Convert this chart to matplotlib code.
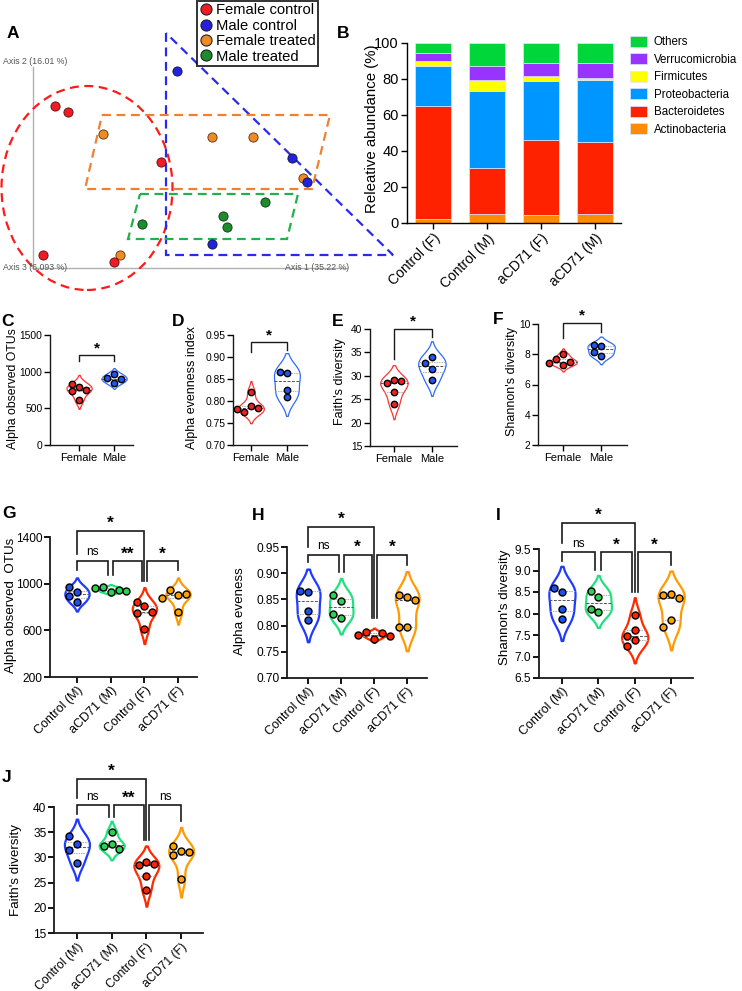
import numpy as np
import matplotlib
matplotlib.use('Agg')
import matplotlib.pyplot as plt
from matplotlib.patches import Ellipse, Polygon, Patch
from matplotlib.lines import Line2D

plt.rcParams['font.family'] = ['Liberation Sans', 'DejaVu Sans']

# ======================= DATA =======================
# Panel A: PCoA coordinates (Axis 1, Axis 2)
pcoa_labels = ['Female control', 'Male control', 'Female treated', 'Male treated']
fc_ax1 = [0.22, 0.35, 1.28, 0.10, 0.81]
fc_ax2 = [1.62, 1.56, 1.06, 0.13, 0.06]
mc_ax1 = [1.44, 2.59, 2.74, 1.79]
mc_ax2 = [1.97, 1.10, 0.86, 0.24]
ft_ax1 = [0.70, 1.79, 2.20, 2.70, 0.87]
ft_ax2 = [1.34, 1.31, 1.31, 0.90, 0.13]
mt_ax1 = [1.09, 1.90, 1.94, 2.32]
mt_ax2 = [0.44, 0.52, 0.41, 0.66]
axis_labels = ['Axis 1 (35.22 %)', 'Axis 2 (16.01 %)', 'Axis 3 (6.093 %)']

# Panel B: relative abundance (%)
b_groups = ['Control (F)', 'Control (M)', 'aCD71 (F)', 'aCD71 (M)']
phyla = ['Actinobacteria', 'Bacteroidetes', 'Proteobacteria', 'Firmicutes',
         'Verrucomicrobia', 'Others']
actinobacteria = [2.4, 4.8, 4.3, 5.0]
bacteroidetes = [62.8, 25.7, 42.0, 40.2]
proteobacteria = [22.2, 42.9, 32.7, 34.4]
firmicutes = [2.7, 5.8, 2.6, 0.7]
verrucomicrobia = [4.3, 8.3, 7.2, 8.7]
others = [5.6, 12.5, 11.2, 11.0]

# Panels C-F: Female vs Male (controls)
sex_groups = ['Female', 'Male']
otus_female = [790, 836, 736, 755, 614]
otus_male = [970, 918, 895, 845]
even_female = [0.789, 0.775, 0.820, 0.784, 0.781]
even_male = [0.864, 0.866, 0.826, 0.809]
faith_female = [29.1, 28.4, 28.9, 26.5, 23.9]
faith_male = [34.1, 32.7, 31.5, 29.0]
shannon_female = [7.99, 7.66, 7.26, 7.48, 7.45]
shannon_male = [8.54, 8.63, 7.88, 8.12]

# Panels G-J: four groups
tx_groups = ['Control (M)', 'aCD71 (M)', 'Control (F)', 'aCD71 (F)']
otus_ctrl_m = [925, 970, 845, 893]
otus_acd_m = [925, 968, 945, 962, 940]
otus_ctrl_f = [805, 840, 745, 760, 612]
otus_acd_f = [905, 945, 910, 880, 757]
even_ctrl_m = [0.865, 0.866, 0.827, 0.811]
even_acd_m = [0.847, 0.859, 0.815, 0.823]
even_ctrl_f = [0.775, 0.788, 0.785, 0.782, 0.780]
even_acd_f = [0.855, 0.858, 0.849, 0.797, 0.798]
shan_ctrl_m = [8.51, 8.59, 8.11, 7.88]
shan_acd_m = [8.39, 8.53, 8.03, 8.11]
shan_ctrl_f = [7.97, 7.62, 7.47, 7.39, 7.25]
shan_acd_f = [8.46, 8.44, 8.35, 7.85, 7.68]
faith_ctrl_m = [32.7, 34.2, 31.5, 28.9]
faith_acd_m = [35.0, 32.7, 32.3, 31.7]
faith_ctrl_f = [29.0, 28.4, 28.7, 26.4, 23.6]
faith_acd_f = [31.2, 32.3, 30.5, 31.0, 25.8]

# ======================= FIGURE =======================
W, H = 742, 991
fig = plt.figure(figsize=(W / 100, H / 100), dpi=100)


def add_ax(l, t, r, b):
    return fig.add_axes([l / W, 1 - b / H, (r - l) / W, (b - t) / H])


def ftext(x, y, s, **kw):
    fig.text(x / W, 1 - y / H, s, **kw)


def letter(x, y, s):
    ftext(x, y, s, fontsize=12.5, fontweight='bold', ha='center', va='center')


# ---------------- Panel A ----------------
axA = add_ax(0, 0, 400, 300)
axA.set_xlim(-0.33, 3.67)
axA.set_ylim(-0.32, 2.68)
axA.axis('off')
axA.plot([0, 0], [0, 2.01], color='#b0b0b0', lw=1.0, zorder=1)
axA.plot([0, 3.14], [0, 0], color='#b0b0b0', lw=1.0, zorder=1)
axA.text(-0.30, 2.06, axis_labels[1], fontsize=6.3, color='#555555', ha='left', va='center')
axA.text(-0.30, 0.0, axis_labels[2], fontsize=6.3, color='#555555', ha='left', va='center')
axA.text(2.52, 0.0, axis_labels[0], fontsize=6.3, color='#555555', ha='left', va='center')

dash = (0, (4, 2.5))
axA.add_patch(Ellipse((0.54, 0.80), 1.71, 2.04, fill=False, edgecolor='#FF1A1A', lw=1.6, linestyle=dash, zorder=2))
axA.add_patch(Polygon([(1.33, 2.35), (1.33, 0.13), (3.60, 0.13)], closed=True, fill=False,
                      edgecolor='#2A2AEE', lw=1.6, linestyle=dash, zorder=2))
axA.add_patch(Polygon([(0.69, 1.53), (2.97, 1.53), (2.79, 0.79), (0.52, 0.79)], closed=True, fill=False,
                      edgecolor='#F08030', lw=1.6, linestyle=dash, zorder=2))
axA.add_patch(Polygon([(1.07, 0.74), (2.65, 0.74), (2.54, 0.29), (0.95, 0.29)], closed=True, fill=False,
                      edgecolor='#22B04A', lw=1.6, linestyle=dash, zorder=2))

a_colors = ['#EE1C25', '#2222DD', '#F08A24', '#1C8C2C']
ms_A = 44
axA.scatter(ft_ax1, ft_ax2, s=ms_A, color=a_colors[2], edgecolor='#553311', lw=0.6, zorder=3)
axA.scatter(mt_ax1, mt_ax2, s=ms_A, color=a_colors[3], edgecolor='#113311', lw=0.6, zorder=3)
axA.scatter(fc_ax1, fc_ax2, s=ms_A, color=a_colors[0], edgecolor='#551111', lw=0.6, zorder=4)
axA.scatter(mc_ax1, mc_ax2, s=ms_A, color=a_colors[1], edgecolor='#111144', lw=0.6, zorder=4)

handlesA = [Line2D([], [], marker='o', ls='none', markersize=8, markerfacecolor=c,
                   markeredgecolor='#222222', markeredgewidth=0.8) for c in a_colors]
legA = fig.legend(handlesA, pcoa_labels, loc='upper left', bbox_to_anchor=(197 / W, 1 - 1 / H),
                  frameon=True, fancybox=False, edgecolor='black', fontsize=10.6,
                  borderpad=0.15, labelspacing=0.1, handletextpad=0.25, handlelength=0.9,
                  borderaxespad=0)
legA.get_frame().set_linewidth(1.4)
letter(13, 34, 'A')

# ---------------- Panel B ----------------
axB = add_ax(407, 43, 621, 223)
b_series = [actinobacteria, bacteroidetes, proteobacteria, firmicutes, verrucomicrobia, others]
b_colors = ['#FF8C00', '#FF2200', '#0096FF', '#FFFF00', '#9933FF', '#00D63A']
xB = np.arange(len(b_groups))
bottom = np.zeros(len(b_groups))
for vals, c in zip(b_series, b_colors):
    axB.bar(xB, vals, bottom=bottom, width=0.667, color=c, edgecolor='#dde6ff', lw=0.5, zorder=2)
    bottom += np.array(vals)
axB.set_xlim(-0.48, 3.48)
axB.set_ylim(0, 100)
axB.set_yticks([0, 20, 40, 60, 80, 100])
axB.tick_params(axis='y', labelsize=10.5, length=4, width=1, direction='out', pad=2)
axB.set_xticks(xB)
axB.set_xticklabels(b_groups, rotation=45, ha='right', rotation_mode='anchor', fontsize=10)
axB.tick_params(axis='x', length=4, width=1, pad=2)
for s in ['top', 'right']:
    axB.spines[s].set_visible(False)
for s in ['left', 'bottom']:
    axB.spines[s].set_linewidth(1.0)
ftext(372, 129, 'Releative abundance (%)', rotation=90, fontsize=10.8, ha='center', va='center')
handlesB = [Patch(facecolor=c, edgecolor='#dde6ff', lw=0.5) for c in b_colors[::-1]]
fig.legend(handlesB, phyla[::-1], loc='upper left', bbox_to_anchor=(630 / W, 1 - 36 / H),
           frameon=False, fontsize=8.3, handlelength=1.5, handleheight=1.05,
           labelspacing=0.45, handletextpad=0.55, borderaxespad=0, borderpad=0)
letter(343, 33, 'B')


# ---------------- violin helpers ----------------
def draw_violin(ax, x0, ys, color, lw, width=0.72, cut=2.0):
    ys = np.asarray(ys, float)
    n = len(ys)
    bw = ys.std(ddof=1) * n ** (-1 / 5)
    grid = np.linspace(ys.min() - cut * bw, ys.max() + cut * bw, 300)
    dens = np.exp(-0.5 * ((grid[:, None] - ys[None, :]) / bw) ** 2).sum(1)
    half = dens / dens.max() * width / 2
    ax.fill_betweenx(grid, x0 - half, x0 + half, facecolor='white', edgecolor=color,
                     lw=lw, zorder=2, clip_on=False)
    q1, med, q3 = np.percentile(ys, [25, 50, 75])
    for q, ls, c in [(q1, (0, (1.5, 1)), '#b0b0b0'), (med, (0, (3, 1.5)), '#555555'),
                     (q3, (0, (1.5, 1)), '#b0b0b0')]:
        hw = np.interp(q, grid, half)
        ax.plot([x0 - hw, x0 + hw], [q, q], color=c, lw=0.7, ls=ls, zorder=3)


def swarm(ax, x0, ys, diam_px):
    ys = np.asarray(ys, float)
    pts = ax.transData.transform(np.column_stack([np.full(len(ys), x0), ys]))
    x0px = pts[0, 0]
    ypx = pts[:, 1]
    placed = []
    xs = np.zeros(len(ys))
    step = diam_px * 1.12
    cands = [0, -1, 1, -2, 2, -3, 3]
    for i in range(len(ys)):
        for k in cands:
            xo = k * step
            ok = all((xo - px) ** 2 + (ypx[i] - py) ** 2 >= step ** 2 for px, py in placed)
            if ok:
                placed.append((xo, ypx[i]))
                xs[i] = xo
                break
    inv = ax.transData.inverted()
    return inv.transform(np.column_stack([x0px + xs, ypx]))[:, 0]


def violin_panel(rect, xlim, groups, data, vcolors, pcolors, ylim, yticks, fmt,
                 tick_fs, xtick_fs, vlw, diam_px, rot, spine_lw):
    ax = add_ax(*rect)
    ax.set_xlim(xlim)
    ax.set_ylim(ylim)
    for i, (vals, c) in enumerate(zip(data, vcolors)):
        draw_violin(ax, i, vals, c, vlw)
    s = (diam_px * 0.72) ** 2
    for i, (vals, pc) in enumerate(zip(data, pcolors)):
        xs = swarm(ax, i, vals, diam_px)
        ax.scatter(xs, vals, s=s, color=pc, edgecolor='black', lw=1.0, zorder=5, clip_on=False)
    ax.set_xticks(range(len(groups)))
    if rot:
        ax.set_xticklabels(groups, rotation=45, ha='right', rotation_mode='anchor', fontsize=xtick_fs)
    else:
        ax.set_xticklabels(groups, fontsize=xtick_fs)
    ax.set_yticks(yticks)
    ax.set_yticklabels([fmt.format(t) for t in yticks], fontsize=tick_fs)
    ax.tick_params(length=4, width=spine_lw, pad=1.5)
    for sp in ['top', 'right']:
        ax.spines[sp].set_visible(False)
    for sp in ['left', 'bottom']:
        ax.spines[sp].set_linewidth(spine_lw)
        ax.spines[sp].set_color('#1a1a1a')
    return ax


def bracket(ax, x1, x2, y, l1, l2, text, lw, fs, bold=True, dy=0):
    ax.plot([x1, x1, x2, x2], [l1, y, y, l2], color='#1a1a1a', lw=lw, clip_on=False,
            solid_joinstyle='miter', zorder=6)
    ax.annotate(text, ((x1 + x2) / 2, y), xytext=(0, dy), textcoords='offset points',
                ha='center', va='bottom', fontsize=fs,
                fontweight='bold' if bold else 'normal', annotation_clip=False)


# ---------------- Panels C-F ----------------
sex_v = ['#FF3333', '#2F6BFF']
sex_p = ['#EE2222', '#2255EE']

axC = violin_panel((50, 335, 133, 445), (-0.83, 1.54), sex_groups, [otus_female, otus_male],
                   sex_v, sex_p, (0, 1500), [0, 500, 1000, 1500], '{:.0f}', 7.4, 8.0, 0.9, 6.4, False, 1.0)
bracket(axC, 0, 1, 1227, 1140, 1140, '*', 1.0, 11)
ftext(13, 389, 'Alpha observed OTUs', rotation=90, fontsize=8.8, ha='center', va='center')
letter(8, 321, 'C')

axD = violin_panel((233, 335, 307, 445), (-0.5, 1.56), sex_groups, [even_female, even_male],
                   sex_v, sex_p, (0.70, 0.95), [0.70, 0.75, 0.80, 0.85, 0.90, 0.95], '{:.2f}',
                   7.4, 8.0, 0.9, 6.4, False, 1.0)
bracket(axD, 0, 1, 0.934, 0.912, 0.917, '*', 1.0, 11)
ftext(192, 388, 'Alpha evenness index', rotation=90, fontsize=9.0, ha='center', va='center')
letter(178, 321, 'D')

axE = violin_panel((370, 329, 457, 446), (-0.63, 1.66), sex_groups, [faith_female, faith_male],
                   sex_v, sex_p, (15, 40), [15, 20, 25, 30, 35, 40], '{:.0f}', 7.4, 8.0, 0.9, 6.4, False, 1.0)
bracket(axE, 0, 1, 40.1, 33.6, 38.3, '*', 1.0, 11)
ftext(340, 382, "Faith's diversity", rotation=90, fontsize=9.0, ha='center', va='center')
letter(338, 321, 'E')

axF = violin_panel((538, 324, 627, 445), (-0.66, 1.68), sex_groups, [shannon_female, shannon_male],
                   sex_v, sex_p, (2, 10), [2, 4, 6, 8, 10], '{:.0f}', 7.4, 8.0, 0.9, 6.4, False, 1.0)
bracket(axF, 0, 1, 10.07, 9.07, 9.47, '*', 1.0, 11)
ftext(512, 382, "Shannon's diversity", rotation=90, fontsize=9.0, ha='center', va='center')
letter(498, 320, 'F')

# ---------------- Panels G-J ----------------
tx_v = ['#1F3BFF', '#22E07F', '#FF2A00', '#FF9A00']
tx_p = ['#1F50E6', '#2BD14F', '#FF2200', '#FFA000']
o = 0.08


def four_brackets(ax, top, low, legs, texts):
    bracket(ax, 0, 2, top[0], top[1], top[2], texts[0], 1.2, 12.5)
    l0, l1, l2, l3 = legs
    spans = [(0, 1 - o, l0, l1), (1 + o, 2 - o, l1, l2), (2 + o, 3, l2, l3)]
    for (a, b, la, lb), t in zip(spans, texts[1:]):
        star = '*' in t
        bracket(ax, a, b, low, la, lb, t, 1.2, 12.5 if star else 8.5, bold=star, dy=0 if star else 2)


axG = violin_panel((50, 537, 197, 677), (-0.8, 3.56), tx_groups,
                   [otus_ctrl_m, otus_acd_m, otus_ctrl_f, otus_acd_f], tx_v, tx_p,
                   (200, 1400), [200, 600, 1000, 1400], '{:.0f}', 8.6, 9.0, 1.6, 7.0, True, 1.3)
four_brackets(axG, (1451, 1258, 1025), 1192, (1116, 1073, 1025, 1116), ['*', 'ns', '**', '*'])
ftext(11, 605, 'Alpha observed  OTUs', rotation=90, fontsize=9.6, ha='center', va='center')
letter(9, 514, 'G')

axH = violin_panel((287, 547, 427, 678), (-0.64, 3.6), tx_groups,
                   [even_ctrl_m, even_acd_m, even_ctrl_f, even_acd_f], tx_v, tx_p,
                   (0.70, 0.95), [0.70, 0.75, 0.80, 0.85, 0.90, 0.95], '{:.2f}', 8.6, 9.0, 1.6, 7.0, True, 1.3)
four_brackets(axH, (0.988, 0.950, 0.814), 0.935, (0.9215, 0.9025, 0.814, 0.915), ['*', 'ns', '*', '*'])
ftext(240, 611, 'Alpha eveness', rotation=90, fontsize=9.6, ha='center', va='center')
letter(258, 515, 'H')

axI = violin_panel((539, 549, 693, 678), (-0.63, 3.6), tx_groups,
                   [shan_ctrl_m, shan_acd_m, shan_ctrl_f, shan_acd_f], tx_v, tx_p,
                   (6.5, 9.5), [6.5, 7.0, 7.5, 8.0, 8.5, 9.0, 9.5], '{:.1f}', 8.6, 9.0, 1.6, 7.0, True, 1.3)
four_brackets(axI, (10.10, 9.63, 8.51), 9.42, (9.22, 9.01, 8.51, 9.13), ['*', 'ns', '*', '*'])
ftext(505, 607, "Shannon's diversity", rotation=90, fontsize=9.6, ha='center', va='center')
letter(498, 515, 'I')

axJ = violin_panel((54, 807, 203, 933), (-0.66, 3.63), tx_groups,
                   [faith_ctrl_m, faith_acd_m, faith_ctrl_f, faith_acd_f], tx_v, tx_p,
                   (15, 40), [15, 20, 25, 30, 35, 40], '{:.0f}', 8.6, 8.8, 1.6, 7.0, True, 1.3)
four_brackets(axJ, (45.6, 41.8, 33.5), 40.3, (38.7, 38.1, 33.5, 37.2), ['*', 'ns', '**', 'ns'])
ftext(16, 870, "Faith's diversity", rotation=90, fontsize=9.6, ha='center', va='center')
letter(7, 778, 'J')

fig.savefig('out.png', dpi=100)
